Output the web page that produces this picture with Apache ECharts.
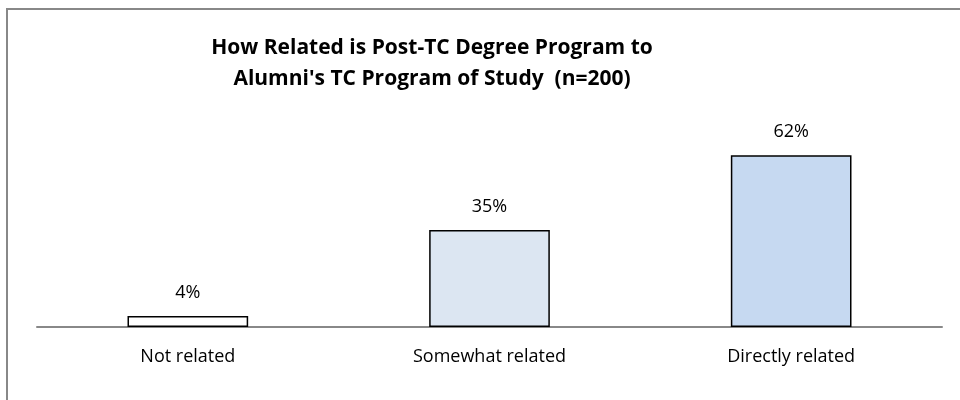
<!DOCTYPE html>
<html>
<head>
<meta charset="utf-8">
<script src="https://cdn.jsdelivr.net/npm/echarts@6/dist/echarts.min.js"></script>
<style>
  html, body { margin: 0; padding: 0; background: #fff; }
  #main { width: 960px; height: 400px; }
</style>
</head>
<body>
<div id="main"></div>
<script>
// 数据
var categories = ['Not related', 'Somewhat related', 'Directly related'];
var values = [4, 35, 62];
var barColors = ['#ffffff', '#dce6f2', '#c6d9f1'];

var myChart = echarts.init(document.getElementById('main'));

var option = {
    backgroundColor: '#fff',
    title: {
        text: "How Related is Post-TC Degree Program to\nAlumni's TC Program of Study  (n=200)",
        left: 427,
        top: 28,
        textAlign: 'center',
        textStyle: {
            fontFamily: 'Open Sans',
            fontSize: 21,
            fontWeight: 'bold',
            color: '#000',
            lineHeight: 31
        }
    },
    // 外框
    graphic: [{
        type: 'rect',
        shape: { x: 7, y: 9, width: 1000, height: 500 },
        style: { fill: 'none', stroke: '#888', lineWidth: 2 },
        silent: true
    }],
    grid: { left: 37, right: 18, top: 50, bottom: 73 },
    xAxis: {
        type: 'category',
        data: categories,
        axisLine: { lineStyle: { color: '#888', width: 2 } },
        axisTick: { show: false },
        axisLabel: {
            margin: 21,
            color: '#000',
            fontFamily: 'Open Sans',
            fontSize: 18
        }
    },
    yAxis: {
        type: 'value',
        min: 0,
        max: 100,
        show: false,
        splitLine: { show: false }
    },
    series: [{
        type: 'bar',
        barWidth: '40%',
        data: values.map(function (v, i) {
            return { value: v, itemStyle: { color: barColors[i] } };
        }),
        itemStyle: { borderColor: '#000', borderWidth: 1.5 },
        label: {
            show: true,
            position: 'top',
            distance: 14,
            formatter: '{c}%',
            color: '#000',
            fontFamily: 'Open Sans',
            fontSize: 18
        }
    }]
};
myChart.setOption(option);
</script>
</body>
</html>
